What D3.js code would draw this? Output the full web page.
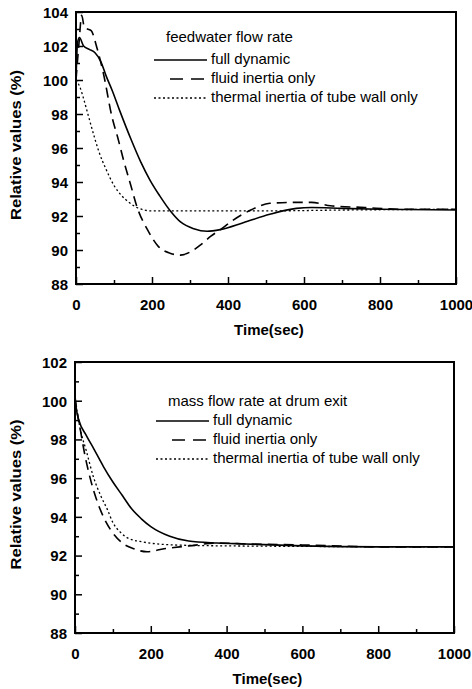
<!DOCTYPE html>
<html>
<head>
<meta charset="utf-8">
<script src="https://cdn.jsdelivr.net/npm/d3@7"></script>
<style>
  body { margin: 0; background: #fff; }
  svg { display: block; }
</style>
</head>
<body>
<svg id="chart" width="472" height="689"></svg>
<script>
// time (sec) and relative values (%)
var seriesNames = ["full dynamic", "fluid inertia only", "thermal inertia of tube wall only"]

// top panel : feedwater flow rate
var feedFull = [[0,100],[4,102.2],[9,102.5],[20,102.0],[35,101.8],[50,101.6],[65,101.1],[80,100.2],[95,99.4],[115,98.2],[145,96.5],[170,95.2],[195,94.1],[220,93.2],[250,92.25],[275,91.65],[310,91.25],[345,91.1],[380,91.2],[440,91.6],[510,92.1],[580,92.45],[620,92.5],[700,92.45],[800,92.4],[1000,92.35]]
var feedFluid = [[0,100],[8,102.2],[15,103.8],[22,103.1],[30,103],[40,102.9],[55,101.9],[72,100.4],[95,97.8],[110,96.6],[125,95.3],[143,93.9],[161,92.5],[188,91.2],[217,90.2],[249,89.8],[275,89.7],[302,89.9],[328,90.3],[354,90.8],[380,91.2],[410,91.7],[460,92.35],[510,92.75],[580,92.8],[620,92.8],[670,92.6],[760,92.5],[850,92.4],[1000,92.4]]
var feedThermal = [[0,100],[10,99.6],[20,98.9],[30,98.1],[45,96.9],[60,95.8],[80,94.7],[100,93.8],[120,93.2],[140,92.8],[160,92.5],[200,92.3],[300,92.3],[500,92.3],[700,92.35],[1000,92.4]]

// bottom panel : mass flow rate at drum exit
var massFull = [[0,100.1],[5,99.4],[10,99.0],[30,98.2],[50,97.5],[75,96.6],[100,95.8],[125,95.1],[150,94.4],[175,93.9],[200,93.5],[250,93.0],[300,92.75],[375,92.65],[450,92.6],[600,92.5],[800,92.45],[1000,92.45]]
var massFluid = [[0,100.2],[5,99.5],[15,98.4],[25,97.3],[40,96.0],[55,95.0],[75,94.0],[95,93.3],[125,92.65],[155,92.35],[190,92.2],[235,92.35],[300,92.5],[380,92.65],[450,92.6],[600,92.55],[800,92.45],[1000,92.45]]
var massThermal = [[0,100],[5,99.5],[13,98.6],[30,97.4],[48,96.1],[70,95.0],[85,94.4],[100,93.7],[120,93.2],[140,92.9],[180,92.7],[260,92.55],[400,92.5],[1000,92.45]]

var xTicks = [0, 200, 400, 600, 800, 1000]
var xMinor = [100, 300, 500, 700, 900]
var feedYTicks = [88, 90, 92, 94, 96, 98, 100, 102, 104]
var massYTicks = [88, 90, 92, 94, 96, 98, 100, 102]

var svg = d3.select("#chart")
var styles = [null, "10,6", "2,2.5"]
var widths = [1.6, 1.6, 1.3]
var font = "'Liberation Sans', Arial, sans-serif"

function drawPanel(p){
  var x = d3.scaleLinear().domain([0,1000]).range([p.left, p.right])
  var y = d3.scaleLinear().domain([88, p.ymax]).range([p.bottom, p.top])
  var g = svg.append("g")

  var minorY = d3.range(89, p.ymax, 2)

  g.append("g")
    .attr("transform", "translate(" + p.left + ",0)")
    .call(d3.axisLeft(y).tickValues(minorY).tickSize(-4).tickFormat(""))
  g.append("g")
    .attr("class", "yax")
    .attr("transform", "translate(" + p.left + ",0)")
    .call(d3.axisLeft(y).tickValues(p.yTicks).tickSize(-7).tickPadding(8).tickFormat(d3.format("d")))
  g.append("g")
    .attr("transform", "translate(0," + p.bottom + ")")
    .call(d3.axisBottom(x).tickValues(xMinor).tickSize(-4).tickFormat(""))
  g.append("g")
    .attr("class", "xax")
    .attr("transform", "translate(0," + p.bottom + ")")
    .call(d3.axisBottom(x).tickValues(xTicks).tickSize(-7).tickPadding(15).tickFormat(d3.format("d")))

  g.selectAll(".domain").remove()
  g.selectAll(".tick line").attr("stroke", "#000").attr("stroke-width", 1.5)
  g.selectAll(".tick text")
    .attr("fill", "#000")
    .style("font-family", font)
    .style("font-weight", "bold")
    .style("font-size", "15px")
  g.selectAll(".yax .tick text").attr("dy", "0.36em")

  g.append("rect")
    .attr("x", p.left).attr("y", p.top)
    .attr("width", p.right - p.left).attr("height", p.bottom - p.top)
    .attr("fill", "none").attr("stroke", "#000").attr("stroke-width", 2)

  var line = d3.line()
    .x(function(d){ return x(d[0]) })
    .y(function(d){ return y(d[1]) })
    .curve(d3.curveMonotoneX)

  p.series.forEach(function(s, i){
    g.append("path")
      .datum(s)
      .attr("d", line)
      .attr("fill", "none")
      .attr("stroke", "#000")
      .attr("stroke-width", widths[i])
      .attr("stroke-dasharray", styles[i])
  })

  // axis titles
  g.append("text")
    .attr("x", (p.left + p.right) / 2 + 3).attr("y", p.bottom + 51)
    .attr("text-anchor", "middle")
    .style("font-family", font)
    .style("font-weight", "bold").style("font-size", "15px")
    .text("Time(sec)")
  g.append("text")
    .attr("transform", "translate(21," + ((p.top + p.bottom) / 2 - 3) + ") rotate(-90)")
    .attr("text-anchor", "middle")
    .attr("textLength", 150)
    .attr("lengthAdjust", "spacingAndGlyphs")
    .style("font-family", font)
    .style("font-weight", "bold").style("font-size", "15px")
    .text("Relative values (%)")

  // legend
  var lg = g.append("g").style("font-family", font).style("font-size", "15px")
  lg.append("text").attr("x", p.lx + 12).attr("y", p.ly).text(p.title)
  seriesNames.forEach(function(n, i){
    var yy = p.ly + p.gap + i * 19
    lg.append("line")
      .attr("x1", i == 1 ? p.lx + 16 : p.lx).attr("x2", p.lx + 53)
      .attr("y1", yy - 4).attr("y2", yy - 4)
      .attr("stroke", "#000")
      .attr("stroke-width", widths[i])
      .attr("stroke-dasharray", i == 1 ? "13,8" : styles[i])
    lg.append("text").attr("x", p.lx + 57).attr("y", yy).text(n)
  })
}

drawPanel({left: 76, right: 456, top: 12, bottom: 284, ymax: 104, yTicks: feedYTicks,
  series: [feedFull, feedFluid, feedThermal], title: "feedwater flow rate", lx: 154, ly: 42, gap: 22})
drawPanel({left: 75, right: 454, top: 362, bottom: 633, ymax: 102, yTicks: massYTicks,
  series: [massFull, massFluid, massThermal], title: "mass flow rate at drum exit", lx: 156, ly: 406, gap: 19})
</script>
</body>
</html>
